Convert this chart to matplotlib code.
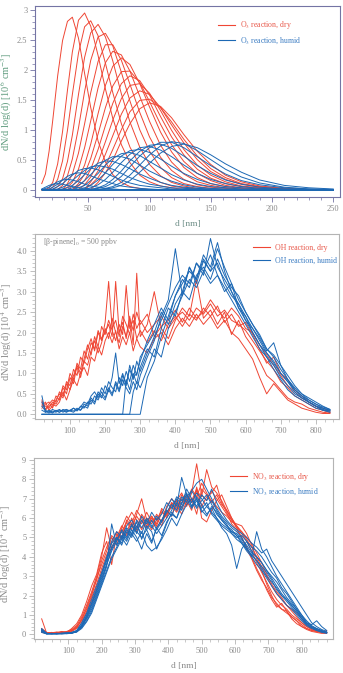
import matplotlib
matplotlib.use('Agg')
import matplotlib.pyplot as plt
from matplotlib.ticker import MultipleLocator, FixedLocator, FuncFormatter
from matplotlib.lines import Line2D

plt.rcParams['font.family'] = ['Liberation Serif', 'DejaVu Serif']
plt.rcParams['mathtext.fontset'] = 'stix'

# ---------------- Panel 1 : O3 reaction (10^6 cm^-3) ----------------
d1 = [12, 15, 18, 21, 25, 29, 33, 37, 42, 47, 52, 58, 64, 70, 77, 84, 92, 100,
      109, 118, 128, 139, 150, 162, 175, 190, 210, 230, 250]

o3_dry = [
    [0.10,0.26,0.64,1.16,1.90,2.49,2.81,2.88,2.53,1.94,1.37,0.81,0.46,0.25,0.12,0.05,0.02,0,0,0,0,0,0,0,0,0,0,0,0],
    [0,0,0.03,0.12,0.43,0.97,1.66,2.30,2.83,2.95,2.73,2.24,1.68,1.19,0.75,0.45,0.24,0.13,0.06,0.03,0,0,0,0,0,0,0,0,0],
    [0,0,0,0.04,0.17,0.48,0.99,1.59,2.28,2.72,2.82,2.57,2.11,1.62,1.10,0.71,0.41,0.23,0.12,0.06,0.03,0.01,0,0,0,0,0,0,0],
    [0,0,0,0,0.05,0.18,0.47,0.91,1.59,2.21,2.62,2.76,2.55,2.15,1.60,1.13,0.71,0.42,0.23,0.12,0.06,0.02,0,0,0,0,0,0,0],
    [0,0,0,0,0,0.07,0.23,0.51,1.03,1.64,2.16,2.55,2.61,2.40,1.96,1.48,1.00,0.64,0.37,0.20,0.10,0.05,0.02,0,0,0,0,0,0],
    [0,0,0,0,0,0,0.10,0.26,0.61,1.10,1.62,2.14,2.42,2.42,2.16,1.76,1.29,0.88,0.54,0.32,0.17,0.08,0.04,0.02,0,0,0,0,0],
    [0,0,0,0,0,0,0.04,0.12,0.34,0.70,1.15,1.70,2.12,2.31,2.25,1.98,1.56,1.14,0.74,0.46,0.26,0.13,0.07,0.03,0.01,0,0,0,0],
    [0,0,0,0,0,0,0,0.06,0.18,0.41,0.76,1.27,1.74,2.06,2.20,2.09,1.77,1.38,0.96,0.63,0.37,0.20,0.10,0.05,0.02,0,0,0,0],
    [0,0,0,0,0,0,0,0,0.10,0.26,0.52,0.93,1.37,1.73,1.97,1.98,1.79,1.47,1.09,0.75,0.47,0.27,0.15,0.07,0.03,0.01,0,0,0],
    [0,0,0,0,0,0,0,0,0.06,0.15,0.34,0.67,1.07,1.44,1.77,1.90,1.82,1.58,1.22,0.88,0.58,0.34,0.19,0.10,0.05,0.02,0,0,0],
    [0,0,0,0,0,0,0,0,0,0.08,0.21,0.46,0.80,1.16,1.52,1.74,1.77,1.61,1.32,0.99,0.67,0.41,0.24,0.13,0.06,0.03,0.01,0,0],
    [0,0,0,0,0,0,0,0,0,0,0.13,0.31,0.59,0.90,1.26,1.53,1.65,1.59,1.37,1.08,0.78,0.50,0.30,0.17,0.09,0.04,0.01,0,0],
    [0,0,0,0,0,0,0,0,0,0,0.08,0.20,0.40,0.67,1.00,1.30,1.49,1.51,1.37,1.13,0.84,0.56,0.35,0.20,0.10,0.05,0.02,0,0],
    [0,0,0,0,0,0,0,0,0,0,0,0.12,0.28,0.49,0.81,1.10,1.35,1.45,1.39,1.20,0.92,0.64,0.42,0.24,0.13,0.06,0.02,0,0],
]

o3_humid = [
    [0,0,0,0,0,0,0,0,0,0,0,0,0,0,0,0,0,0,0,0,0,0,0,0,0,0,0,0,0],
    [0.01,0.04,0.07,0.09,0.10,0.09,0.07,0.05,0.03,0.02,0.01,0,0,0,0,0,0,0,0,0,0,0,0,0,0,0,0,0,0],
    [0,0.02,0.04,0.08,0.13,0.16,0.17,0.16,0.13,0.09,0.06,0.04,0.02,0.01,0,0,0,0,0,0,0,0,0,0,0,0,0,0,0],
    [0,0,0.01,0.04,0.09,0.16,0.22,0.26,0.28,0.27,0.23,0.18,0.14,0.10,0.06,0.04,0.02,0.01,0,0,0,0,0,0,0,0,0,0,0],
    [0,0,0,0.01,0.05,0.10,0.17,0.24,0.32,0.35,0.36,0.33,0.28,0.22,0.16,0.11,0.07,0.05,0.03,0.01,0,0,0,0,0,0,0,0,0],
    [0,0,0,0,0.01,0.04,0.08,0.15,0.24,0.32,0.38,0.40,0.38,0.34,0.27,0.20,0.14,0.09,0.06,0.03,0.02,0.01,0,0,0,0,0,0,0],
    [0,0,0,0,0,0.01,0.03,0.07,0.15,0.25,0.35,0.44,0.48,0.47,0.42,0.35,0.26,0.19,0.12,0.07,0.04,0.02,0.01,0,0,0,0,0,0],
    [0,0,0,0,0,0,0,0.03,0.07,0.15,0.25,0.38,0.49,0.55,0.55,0.51,0.41,0.31,0.22,0.14,0.08,0.04,0.02,0.01,0,0,0,0,0],
    [0,0,0,0,0,0,0,0,0.03,0.07,0.15,0.27,0.41,0.52,0.60,0.62,0.57,0.47,0.36,0.25,0.16,0.09,0.05,0.03,0.01,0,0,0,0],
    [0,0,0,0,0,0,0,0,0,0.03,0.07,0.16,0.28,0.42,0.56,0.65,0.67,0.62,0.51,0.39,0.27,0.17,0.10,0.05,0.03,0.01,0,0,0],
    [0,0,0,0,0,0,0,0,0,0,0.03,0.08,0.17,0.29,0.45,0.59,0.70,0.72,0.66,0.55,0.41,0.27,0.17,0.10,0.05,0.02,0.01,0,0],
    [0,0,0,0,0,0,0,0,0,0,0,0.03,0.08,0.17,0.31,0.48,0.64,0.74,0.76,0.69,0.56,0.40,0.27,0.16,0.09,0.04,0.01,0,0],
    [0,0,0,0,0,0,0,0,0,0,0,0.02,0.05,0.11,0.22,0.38,0.56,0.70,0.79,0.79,0.70,0.55,0.40,0.26,0.15,0.08,0.03,0.01,0],
    [0,0,0,0,0,0,0,0,0,0,0,0,0.02,0.05,0.12,0.24,0.41,0.58,0.73,0.80,0.77,0.65,0.50,0.34,0.21,0.11,0.04,0.01,0],
    [0,0,0,0,0,0,0,0,0,0,0,0,0.01,0.03,0.07,0.15,0.29,0.44,0.61,0.72,0.76,0.70,0.58,0.43,0.29,0.16,0.07,0.03,0.01],
]

# ---------------- Panel 2 : OH reaction (10^4 cm^-3) ----------------
d2 = list(range(20, 301, 10)) + list(range(320, 841, 20))

oh_dry = [
    [0.30,0.12,0.25,0.35,0.30,0.55,0.45,0.80,0.70,1.10,0.95,1.40,1.25,1.60,1.85,1.55,2.00,1.80,2.25,3.25,2.10,2.30,1.90,2.40,2.20,1.95,2.45,2.10,2.30,
     2.00,2.20,2.40,2.10,2.35,2.50,2.30,2.60,2.45,2.70,2.40,2.55,2.30,2.20,2.05,1.80,1.55,1.30,1.10,0.80,0.65,0.45,0.35,0.25,0.15,0.10,0.05],
    [0.20,0.30,0.10,0.20,0.45,0.35,0.70,0.60,1.00,0.85,1.25,1.10,1.55,1.35,1.75,1.60,2.05,1.85,2.00,2.20,1.90,3.25,2.00,2.25,1.85,2.35,2.05,2.50,2.20,
     2.45,1.90,2.15,2.30,2.55,2.25,2.60,2.35,2.50,2.80,2.55,2.35,2.60,2.40,2.10,2.00,1.70,1.45,1.20,0.95,0.70,0.55,0.40,0.30,0.20,0.10,0.05],
    [0.25,0.20,0.15,0.30,0.25,0.40,0.65,0.50,0.90,0.75,1.20,1.00,1.35,1.70,1.45,1.90,1.65,2.15,1.95,2.30,2.05,1.80,2.20,1.95,3.15,2.10,2.30,1.85,2.05,
     1.75,2.05,1.80,2.20,2.40,2.15,2.45,2.30,2.60,2.40,2.65,2.25,2.45,2.15,2.25,1.95,1.60,1.25,1.40,1.00,0.85,0.60,0.45,0.30,0.20,0.15,0.08],
    [0.15,0.25,0.30,0.15,0.35,0.50,0.40,0.75,0.60,0.95,1.15,0.90,1.30,1.20,1.55,1.80,1.50,1.75,2.10,1.85,2.35,2.00,1.75,2.15,1.90,2.40,1.70,3.45,1.90,
     2.20,3.00,2.10,1.85,2.30,2.60,2.40,3.30,2.35,2.55,2.20,2.50,1.95,2.30,1.90,1.65,1.30,0.95,0.80,0.60,0.40,0.30,0.25,0.15,0.10,0.05,0.03],
    [0.35,0.10,0.20,0.25,0.20,0.30,0.55,0.35,0.60,0.85,0.70,1.00,1.15,0.95,1.40,1.30,1.65,1.45,1.80,2.00,1.75,2.05,1.60,1.90,1.70,2.00,1.55,1.85,1.65,
     1.50,1.85,2.00,1.70,2.10,2.35,2.15,2.45,2.20,2.40,2.10,2.30,2.00,1.85,1.60,1.35,0.90,0.50,0.75,0.55,0.35,0.25,0.15,0.10,0.05,0.02,0.02],
]

oh_humid = [
    [0.45,0.05,0.08,0.03,0.10,0.05,0.12,0.06,0.10,0.15,0.08,0.20,0.15,0.30,0.25,0.45,0.35,0.55,0.40,0.65,0.50,0.80,0.60,0.95,0.75,1.10,0.85,1.30,1.05,
     1.50,1.90,2.30,2.70,3.10,3.40,3.20,3.70,3.50,3.90,3.40,3.10,2.80,2.50,2.20,1.90,1.60,1.40,1.20,0.90,0.70,0.50,0.40,0.30,0.20,0.10,0.08],
    [0,0,0,0,0,0,0,0,0,0,0,0,0,0,0,0,0,0,0,0,0,0,0,0,0.85,0.60,1.00,0.75,1.15,
     1.60,1.40,2.10,2.60,2.40,3.00,3.60,3.30,3.90,3.60,4.20,3.50,3.00,2.60,2.30,2.00,1.70,1.50,1.25,1.00,0.80,0.55,0.40,0.30,0.20,0.15,0.10],
    [0,0,0,0,0,0,0,0,0,0,0,0,0,0,0,0,0,0,0,0,0,0,0,0,0,0,0,0,0,
     0.90,1.30,1.90,2.40,2.90,3.30,3.10,3.70,3.40,4.30,3.60,3.30,3.00,2.70,2.40,2.10,1.85,1.55,1.75,1.20,0.85,0.60,0.45,0.30,0.20,0.12,0.08],
    [0.10,0.05,0.10,0.05,0.08,0.12,0.05,0.10,0.08,0.05,0.12,0.10,0.20,0.15,0.35,0.25,0.50,0.40,0.70,0.55,0.90,1.50,0.75,1.00,0.70,1.20,0.90,1.00,1.30,
     1.80,2.20,2.60,2.30,2.90,3.20,3.50,3.30,3.80,3.50,3.70,3.20,2.90,2.70,2.30,2.10,1.80,1.50,1.30,1.00,0.80,0.60,0.45,0.35,0.25,0.15,0.10],
    [0.20,0.08,0.03,0.08,0.05,0.10,0.08,0.05,0.10,0.08,0.15,0.10,0.25,0.20,0.40,0.30,0.55,0.45,0.35,0.60,0.45,0.75,0.55,0.85,0.65,0.50,0.80,0.60,0.95,
     1.40,1.80,2.40,2.80,4.05,2.90,3.30,3.10,3.50,3.20,3.40,3.00,3.20,2.60,2.40,2.00,1.70,1.40,1.10,0.85,0.60,0.45,0.35,0.25,0.15,0.10,0.05],
    [0.30,0.10,0.05,0.12,0.08,0.05,0.10,0.12,0.08,0.15,0.10,0.18,0.30,0.25,0.45,0.55,0.40,0.65,0.50,0.80,0.65,0.55,0.90,0.70,1.05,0.80,1.20,0.95,1.40,
     1.70,2.00,2.50,2.20,2.70,3.00,2.80,3.40,3.60,3.30,3.80,3.40,3.10,2.90,2.50,2.20,1.95,1.60,1.45,1.20,0.95,0.70,0.50,0.40,0.30,0.20,0.12],
    [0,0,0,0,0,0,0,0,0,0,0,0,0,0,0,0,0,0,0,0,0,0,0,0,0,0,0.55,0.80,0.65,
     1.10,1.60,1.40,2.10,2.50,2.90,3.60,3.20,3.75,3.50,4.05,3.60,3.20,2.80,2.50,2.20,1.90,1.60,1.40,1.10,0.85,0.65,0.50,0.35,0.25,0.18,0.12],
]

# ---------------- Panel 3 : NO3 reaction (10^4 cm^-3) ----------------
d3 = list(range(20, 876, 15))

no3_dry = [
    [0.80,0.05,0.10,0.05,0.12,0.10,0.20,0.35,0.80,1.30,2.00,2.90,3.60,4.30,5.00,4.60,5.40,5.10,5.70,5.30,5.90,5.50,6.00,5.60,6.30,6.10,6.80,6.40,7.00,6.60,
     7.30,8.80,7.20,6.90,7.40,7.00,6.60,6.20,5.90,5.50,5.30,4.90,4.50,4.00,3.50,3.00,2.50,2.10,1.80,1.50,1.30,1.10,0.80,0.50,0.30,0.20,0.15,0.10],
    [0.30,0.10,0.05,0.10,0.08,0.15,0.25,0.45,0.90,1.50,2.20,3.00,4.00,5.50,4.40,5.00,5.60,5.20,6.00,5.50,6.20,5.80,5.40,5.90,6.40,6.00,6.70,6.90,6.50,7.20,
     6.80,7.40,7.10,8.50,7.60,7.30,6.90,6.40,6.00,5.60,5.20,4.80,4.30,3.70,3.20,2.70,2.20,1.80,1.50,1.30,1.00,0.80,0.60,0.40,0.25,0.15,0.12,0.10],
    [0.20,0.05,0.08,0.12,0.05,0.10,0.30,0.55,1.00,1.70,2.50,3.10,4.20,4.80,3.60,5.20,4.90,5.80,5.40,6.20,7.00,5.90,6.10,5.70,6.50,6.20,6.80,6.50,7.20,6.90,
     6.40,7.60,6.60,7.10,7.30,7.70,6.80,6.30,5.70,5.40,5.00,4.40,3.90,3.30,2.80,2.40,1.90,1.60,1.30,1.10,0.90,0.70,0.50,0.30,0.20,0.15,0.10,0.08],
    [0.25,0.08,0.05,0.10,0.15,0.12,0.20,0.40,0.70,1.20,1.90,2.60,3.40,4.10,4.70,5.30,5.00,5.90,5.60,6.10,5.70,6.30,5.80,6.00,5.60,6.40,6.10,6.90,7.30,6.70,
     7.00,6.20,7.50,7.20,6.90,6.60,6.30,6.10,5.80,5.70,5.60,5.20,4.60,3.90,3.30,2.60,2.00,1.50,1.30,1.20,0.90,0.70,0.40,0.25,0.15,0.10,0.05,0.05],
    [0.15,0.10,0.05,0.08,0.10,0.05,0.15,0.30,0.60,1.10,1.70,2.40,3.20,3.90,4.50,4.90,5.50,6.10,5.70,6.40,6.00,5.60,6.10,5.50,5.90,6.20,6.60,6.30,6.80,7.20,
     6.90,7.50,6.00,5.80,6.40,6.90,7.20,6.60,6.00,5.50,5.00,4.50,4.00,3.40,2.90,2.30,1.80,1.40,1.60,1.20,0.80,0.55,0.40,0.30,0.20,0.15,0.10,0.20],
    [0.10,0.05,0.10,0.05,0.08,0.12,0.18,0.35,0.75,1.40,2.10,2.80,3.80,4.50,5.10,4.80,5.30,5.80,6.30,5.90,5.40,6.00,5.70,6.20,5.80,6.60,7.00,6.70,6.20,6.90,
     7.50,7.10,7.80,7.30,6.80,7.20,6.70,6.40,5.90,5.60,5.30,5.00,4.70,4.20,3.70,3.10,2.60,2.20,1.90,1.50,1.20,0.90,0.60,0.40,0.30,0.20,0.15,0.10],
]

no3_humid = [
    [0.30,0.05,0.02,0.05,0.03,0.05,0.10,0.20,0.60,1.10,1.80,2.50,3.20,4.00,4.70,5.00,4.60,5.30,5.00,5.60,5.20,5.90,5.50,6.10,5.80,6.50,7.00,6.60,8.10,7.20,
     6.80,7.30,7.00,6.60,6.30,6.00,5.70,5.50,5.30,5.20,4.90,4.60,4.20,4.00,3.70,3.30,2.90,2.50,2.10,1.80,1.50,1.20,0.90,0.60,0.40,0.30,0.20,0.10],
    [0.15,0.02,0.05,0.03,0.05,0.08,0.05,0.15,0.45,0.90,1.50,2.20,2.90,3.60,4.30,4.80,5.40,5.00,5.70,5.20,5.90,5.40,4.80,5.50,5.90,6.40,6.10,6.80,6.40,7.10,
     7.40,7.80,8.00,7.50,7.00,6.50,6.10,5.80,5.50,5.30,5.00,4.50,4.00,5.30,4.40,4.00,3.50,3.00,2.60,2.20,1.80,1.40,1.00,0.70,0.45,0.30,0.20,0.10],
    [0.20,0.03,0.05,0.02,0.04,0.06,0.08,0.12,0.40,0.80,1.30,2.00,2.70,3.50,5.70,4.60,5.10,4.80,5.40,5.00,4.40,5.20,4.70,5.50,5.10,5.80,6.20,6.00,6.60,7.00,
     6.50,6.90,6.40,6.10,6.60,6.30,5.90,5.60,5.40,5.10,4.80,4.40,4.10,3.80,3.40,3.00,2.70,2.40,2.00,1.70,1.40,1.10,0.80,0.50,0.35,0.25,0.15,0.08],
    [0.25,0.04,0.03,0.05,0.02,0.05,0.10,0.18,0.50,1.00,1.60,2.30,3.00,3.80,4.50,5.00,4.70,5.50,5.20,5.80,4.90,5.60,5.30,4.40,5.00,5.70,6.30,6.00,6.80,7.20,
     6.60,7.10,6.70,6.20,6.50,6.00,5.50,5.20,4.60,3.40,4.40,4.80,4.50,4.30,4.00,3.60,3.20,2.90,2.40,2.10,1.70,1.30,1.00,0.60,0.50,0.70,0.40,0.20],
    [0.10,0.02,0.04,0.03,0.05,0.04,0.08,0.15,0.35,0.70,1.20,1.90,2.60,3.30,4.00,4.50,5.00,4.60,5.20,4.80,5.30,4.60,4.30,4.50,4.90,5.40,6.00,5.60,6.20,6.70,
     7.00,6.60,7.20,6.90,7.50,6.80,6.30,5.90,5.60,5.40,5.20,5.00,4.70,4.50,4.20,4.40,3.80,3.40,3.00,2.60,2.20,1.80,1.40,1.00,0.60,0.40,0.25,0.15],
    [0.20,0.05,0.03,0.05,0.04,0.03,0.06,0.12,0.30,0.65,1.10,1.80,2.50,3.20,3.90,4.40,4.90,5.40,5.10,5.90,5.50,6.00,5.60,5.20,5.60,6.00,6.40,7.00,6.70,7.50,
     7.00,6.50,6.90,7.20,6.70,6.20,5.90,5.60,5.30,5.10,4.70,4.40,4.10,3.80,3.50,3.20,2.80,2.30,2.00,1.80,1.50,1.20,0.80,0.55,0.35,0.20,0.10,0.05],
    [0.15,0.03,0.02,0.04,0.06,0.05,0.09,0.14,0.40,0.85,1.40,2.10,2.80,3.60,4.40,4.90,5.30,4.90,5.60,5.30,5.00,5.40,5.90,5.40,5.80,6.30,6.70,6.40,7.10,6.80,
     7.40,7.00,6.30,6.60,6.90,6.40,6.00,5.70,5.20,5.00,5.10,4.80,4.30,4.00,3.70,3.30,3.00,2.70,2.30,1.90,1.60,1.30,0.90,0.60,0.40,0.25,0.15,0.10],
    [0.25,0.05,0.04,0.02,0.05,0.07,0.06,0.16,0.45,0.95,1.60,2.30,3.10,3.90,4.80,5.30,5.00,5.60,5.90,5.40,6.10,5.70,6.30,5.90,6.20,6.80,6.50,7.10,6.90,7.30,
     6.60,7.00,6.50,6.80,6.20,5.90,5.60,5.40,5.20,4.90,4.70,4.30,4.00,3.60,3.30,2.90,2.50,2.10,1.80,1.50,1.30,1.00,0.70,0.45,0.30,0.20,0.15,0.10],
]

labels1 = ["O$_3$ reaction, dry", "O$_3$ reaction, humid"]
labels2 = ["OH reaction, dry", "OH reaction, humid"]
labels3 = ["NO$_3$ reaction, dry", "NO$_3$ reaction, humid"]
annot2 = "[\u03b2-pinene]$_0$ = 500 ppbv"
xticks_nm = [100, 200, 300, 400, 500, 600, 700, 800]

RED = '#ef4634'
BLUE = '#1c68b4'
RED_TXT = '#e8584a'
BLUE_TXT = '#3b7cc2'
TICK_TXT = '#8a8a8a'

W, H = 343, 673
fig = plt.figure(figsize=(W / 100, H / 100), dpi=100)


def make_axes(l, r, t, b):
    return fig.add_axes([l / W, 1 - b / H, (r - l) / W, (b - t) / H])


def style(ax, spine_col, xmaj, xmin, ymaj, ymin, fmt=None):
    for s in ax.spines.values():
        s.set_color(spine_col)
        s.set_linewidth(0.8)
    ax.xaxis.set_major_locator(xmaj)
    ax.xaxis.set_minor_locator(MultipleLocator(xmin))
    ax.yaxis.set_major_locator(MultipleLocator(ymaj))
    ax.yaxis.set_minor_locator(MultipleLocator(ymin))
    ax.tick_params(which='both', direction='out', colors=spine_col,
                   labelcolor=TICK_TXT, labelsize=6, top=False, right=False)
    ax.tick_params(which='major', length=3.5, width=0.6, pad=2)
    ax.tick_params(which='minor', length=2, width=0.5)
    if fmt:
        ax.yaxis.set_major_formatter(fmt)


def add_legend(ax, x, y, labels):
    h = [Line2D([], [], color=RED, lw=0.8), Line2D([], [], color=BLUE, lw=0.8)]
    leg = ax.legend(h, labels, loc='upper left', bbox_to_anchor=(x, y),
                    frameon=False, fontsize=5.6, handlelength=2.2,
                    handletextpad=0.6, borderpad=0, borderaxespad=0,
                    labelspacing=0.55, labelcolor=[RED_TXT, BLUE_TXT])
    return leg


# ---- panel 1
ax1 = make_axes(35, 340, 6, 197)
for ys in o3_dry:
    ax1.plot(d1, ys, color=RED, lw=0.7)
for ys in o3_humid:
    ax1.plot(d1, ys, color=BLUE, lw=0.7)
ax1.set_xlim(6.5, 255.5)
ax1.set_ylim(-0.124, 3.067)
style(ax1, '#7474a4', MultipleLocator(50), 10, 0.5, 0.1,
      FuncFormatter(lambda v, p: f"{v:g}"))
ax1.set_xlabel("d [nm]", fontsize=6.8, color='#6f8f88', labelpad=5)
ax1.set_ylabel("dN/d log(d) [10$^6$ cm$^{-3}$]", fontsize=7.5, color='#5f9c7e')
ax1.yaxis.set_label_coords(-0.07, 0.5)
add_legend(ax1, 0.6, 0.93, labels1)

# ---- panel 2
ax2 = make_axes(35, 339, 234, 419)
for ys in oh_dry:
    ax2.plot(d2, ys, color=RED, lw=0.7)
for ys in oh_humid:
    ax2.plot(d2, ys, color=BLUE, lw=0.7)
ax2.set_xlim(0.3, 866)
ax2.set_ylim(-0.115, 4.41)
style(ax2, '#b4b4b4', FixedLocator(xticks_nm), 25, 0.5, 0.1,
      FuncFormatter(lambda v, p: f"{v:.1f}"))
ax2.set_xlabel("d [nm]", fontsize=6.8, color='#8a8a8a', labelpad=5)
ax2.set_ylabel("dN/d log(d) [10$^4$ cm$^{-3}$]", fontsize=7.5, color='#8a8a8a')
ax2.yaxis.set_label_coords(-0.07, 0.47)
ax2.text(0.026, 0.957, annot2, transform=ax2.transAxes, fontsize=5.6,
         color='#8a8a8a', va='center', ha='left')
add_legend(ax2, 0.717, 0.945, labels2)

# ---- panel 3
ax3 = make_axes(34, 333, 458, 639)
for ys in no3_dry:
    ax3.plot(d3, ys, color=RED, lw=0.7)
for ys in no3_humid:
    ax3.plot(d3, ys, color=BLUE, lw=0.7)
ax3.set_xlim(-3, 894)
ax3.set_ylim(-0.24, 9.1)
style(ax3, '#b4b4b4', FixedLocator(xticks_nm), 25, 1, 0.2,
      FuncFormatter(lambda v, p: f"{v:g}"))
ax3.set_xlabel("d [nm]", fontsize=6.8, color='#8a8a8a', labelpad=5)
ax3.set_ylabel("dN/d log(d) [10$^4$ cm$^{-3}$]", fontsize=7.5, color='#8a8a8a')
ax3.yaxis.set_label_coords(-0.07, 0.47)
add_legend(ax3, 0.656, 0.93, labels3)

fig.savefig("out.png", dpi=100)
